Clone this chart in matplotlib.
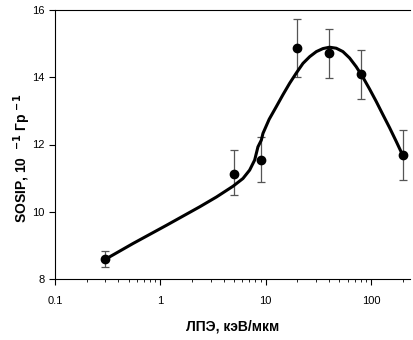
import matplotlib
matplotlib.use("Agg")
import matplotlib.pyplot as plt

# ------------- Data -----------------------------------
let = [0.3, 5, 9, 20, 40, 80, 200]
sosip = [8.59, 11.12, 11.54, 14.87, 14.72, 14.10, 11.68]
err_lo = [0.24, 0.62, 0.66, 0.87, 0.74, 0.75, 0.74]
err_hi = [0.26, 0.71, 0.68, 0.86, 0.71, 0.71, 0.75]

# fitted curve
curve_x = [0.309, 0.552, 1.145, 2.37, 3.41, 4.90, 6.09, 7.05, 7.87, 8.45,
           9.10, 9.43, 10.8, 12.6, 14.6, 16.9, 19.6, 22.6, 26.2, 30.3,
           35.0, 40.4, 46.8, 54.1, 62.6, 72.4, 83.7, 96.8, 112, 129,
           150, 173, 200]
curve_y = [8.61, 9.06, 9.60, 10.15, 10.44, 10.76, 10.99, 11.24, 11.54, 11.93,
           12.13, 12.33, 12.75, 13.12, 13.48, 13.82, 14.13, 14.41, 14.61, 14.76,
           14.85, 14.89, 14.86, 14.76, 14.57, 14.31, 14.00, 13.65, 13.28, 12.90,
           12.50, 12.10, 11.68]

plt.rcParams['font.family'] = ['Liberation Sans', 'DejaVu Sans']

fig = plt.figure(figsize=(4.13, 3.4), dpi=100)
ax = fig.add_axes([0.133, 0.179, 0.86, 0.792])

ax.plot(curve_x, curve_y, color='black', lw=2.2, zorder=2,
        solid_joinstyle='round', solid_capstyle='round')
ax.errorbar(let, sosip, yerr=[err_lo, err_hi], fmt='none', ecolor='#555555',
            elinewidth=0.9, capsize=3, capthick=0.9, zorder=1)
ax.plot(let, sosip, 'o', color='black', ms=6, zorder=3)

ax.set_xscale('log')
ax.set_xlim(0.1, 235)
ax.set_ylim(8, 16)
ax.set_yticks([8, 10, 12, 14, 16])
ax.set_xticks([0.1, 1, 10, 100])
ax.set_xticklabels(['0.1', '1', '10', '100'])

ax.spines['right'].set_visible(False)
ax.tick_params(axis='both', which='major', labelsize=8, length=4, direction='out')
ax.tick_params(axis='x', which='minor', length=2.5, direction='out')
ax.tick_params(axis='x', pad=8)

ax.set_xlabel('ЛПЭ, кэВ/мкм', fontsize=10, fontweight='bold', labelpad=10)
ax.set_ylabel(r'SOSIP, 10  $^{\mathbf{-1}}$ Гр $^{\mathbf{-1}}$', fontsize=10,
              fontweight='bold')
ax.yaxis.set_label_coords(-0.062, 0.45)

fig.savefig('out.png', dpi=100)
